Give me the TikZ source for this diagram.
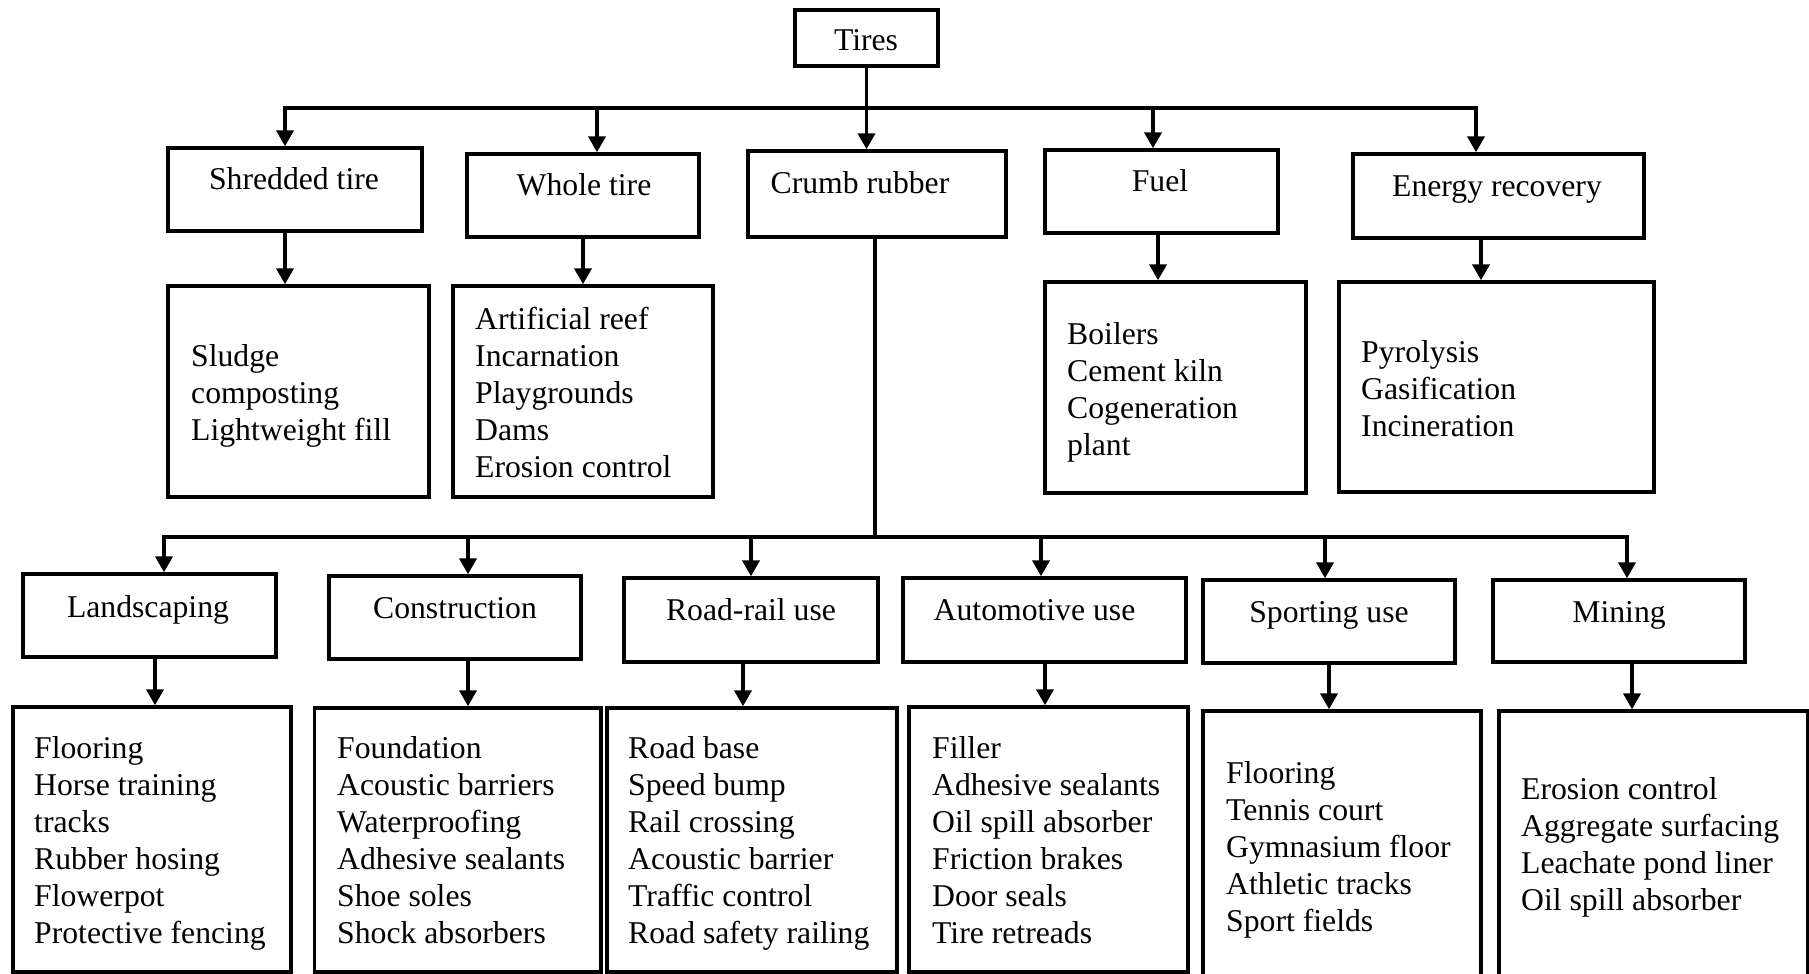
\documentclass[tikz,border=0pt]{standalone}
\usepackage{fontspec}
\setmainfont{Liberation Serif}
\usetikzlibrary{arrows.meta}

\tikzset{
  every node/.style={font=\fontsize{31.7pt}{37pt}\selectfont},
  box/.style={draw, rectangle, line width=3.4pt, inner sep=0pt},
  lbl/.style={anchor=base, inner sep=0pt},
  lst/.style={anchor=base west, inner sep=0pt},
  conn/.style={line width=3.8pt},
  tip/.tip={Triangle[width=17pt,length=16pt]},
  arr/.style={conn, -tip},
  arrboth/.style={conn, tip-tip, line join=miter},
}

\newcommand{\items}[1]{\begin{tabular}[t]{@{}l@{}}#1\end{tabular}}

\begin{document}
\begin{tikzpicture}[x=1pt, y=-1pt]
\useasboundingbox (0,0) rectangle (1809,974);
\clip (0,0) rectangle (1809,974);

% ---- root ----
\node[box, minimum width=143pt, minimum height=56pt] (tires) at (866.5,38) {};
\node[lbl] (tiresT) at (866,51) {Tires};

% ---- first level ----
\node[box, minimum width=254pt, minimum height=83pt] (shred)  at (295,189.5)   {};
\node[box, minimum width=232pt, minimum height=83pt] (whole)  at (583,195.5)   {};
\node[box, minimum width=258pt, minimum height=86pt] (crumb)  at (877,194)     {};
\node[box, minimum width=233pt, minimum height=83pt] (fuel)   at (1161.5,191.5){};
\node[box, minimum width=291pt, minimum height=84pt] (energy) at (1498.5,196)  {};

\node[lbl] (shredT)  at (294,189)  {Shredded tire};
\node[lbl] (wholeT)  at (584,195)  {Whole tire};
\node[lbl] (crumbT)  at (860,193)  {Crumb rubber};
\node[lbl] (fuelT)   at (1160,191) {Fuel};
\node[lbl] (energyT) at (1497,196) {Energy recovery};

% ---- first level uses ----
\node[box, minimum width=261pt, minimum height=211pt] (shredL)  at (298.5,391.5)  {};
\node[box, minimum width=260pt, minimum height=211pt] (wholeL)  at (583,391.5)    {};
\node[box, minimum width=261pt, minimum height=211pt] (fuelL)   at (1175.5,387.5) {};
\node[box, minimum width=315pt, minimum height=210pt] (energyL) at (1496.5,387)   {};

\node[lst] (shredLT)  at (191,366)  {\items{Sludge\\composting\\Lightweight fill}};
\node[lst] (wholeLT)  at (475,329)  {\items{Artificial reef\\Incarnation\\Playgrounds\\Dams\\Erosion control}};
\node[lst] (fuelLT)   at (1067,344) {\items{Boilers\\Cement kiln\\Cogeneration\\plant}};
\node[lst] (energyLT) at (1361,362) {\items{Pyrolysis\\Gasification\\Incineration}};

% ---- crumb rubber applications ----
\node[box, minimum width=253pt, minimum height=83pt] (land)   at (149.5,615.5) {};
\node[box, minimum width=252pt, minimum height=83pt] (cons)   at (455,617.5)   {};
\node[box, minimum width=254pt, minimum height=84pt] (road)   at (751,620)     {};
\node[box, minimum width=283pt, minimum height=84pt] (auto)   at (1044.5,620)  {};
\node[box, minimum width=252pt, minimum height=83pt] (sport)  at (1329,621.5)  {};
\node[box, minimum width=252pt, minimum height=82pt] (mining) at (1619,621)    {};

\node[lbl] (landT)   at (148,617)    {Landscaping};
\node[lbl] (consT)   at (455,618)    {Construction};
\node[lbl] (roadT)   at (751,620)    {Road-rail use};
\node[lbl] (autoT)   at (1034.5,620) {Automotive use};
\node[lbl] (sportT)  at (1329,622)   {Sporting use};
\node[lbl] (miningT) at (1619,622)   {Mining};

\node[box, minimum width=278pt,   minimum height=265pt] (landL)   at (152,839.5)    {};
\node[box, minimum width=286.5pt, minimum height=264pt] (consL)   at (457.75,840)   {};
\node[box, minimum width=290pt,   minimum height=264pt] (roadL)   at (752,840)      {};
\node[box, minimum width=279pt,   minimum height=265pt] (autoL)   at (1048.5,839.5) {};
\node[box, minimum width=278pt,   minimum height=284pt] (sportL)  at (1342,853)     {};
\node[box, minimum width=308.5pt, minimum height=284pt] (miningL) at (1653.25,853)  {};

\node[lst] (landLT)   at (34,758)   {\items{Flooring\\Horse training\\tracks\\Rubber hosing\\Flowerpot\\Protective fencing}};
\node[lst] (consLT)   at (337,758)  {\items{Foundation\\Acoustic barriers\\Waterproofing\\Adhesive sealants\\Shoe soles\\Shock absorbers}};
\node[lst] (roadLT)   at (628,758)  {\items{Road base\\Speed bump\\Rail crossing\\Acoustic barrier\\Traffic control\\Road safety railing}};
\node[lst] (autoLT)   at (932,758)  {\items{Filler\\Adhesive sealants\\Oil spill absorber\\Friction brakes\\Door seals\\Tire retreads}};
\node[lst] (sportLT)  at (1226,783) {\items{Flooring\\Tennis court\\Gymnasium floor\\Athletic tracks\\Sport fields}};
\node[lst] (miningLT) at (1521,799) {\items{Erosion control\\Aggregate surfacing\\Leachate pond liner\\Oil spill absorber}};

% ---- branch points ----
\coordinate (b1) at (285,108);
\coordinate (b2) at (597,108);
\coordinate (b4) at (1153,108);
\coordinate (b5) at (1476,108);

\coordinate (s2) at (583,0);
\coordinate (s4) at (1158,0);
\coordinate (s5) at (1481,0);

\coordinate (cj) at (875,537);
\coordinate (c1) at (164,537);
\coordinate (c2) at (468,537);
\coordinate (c3) at (751,537);
\coordinate (c4) at (1041,537);
\coordinate (c5) at (1325,537);
\coordinate (c6) at (1627,537);

\coordinate (d1) at (155,0);
\coordinate (d2) at (468,0);
\coordinate (d3) at (743,0);
\coordinate (d4) at (1045,0);
\coordinate (d5) at (1329,0);
\coordinate (d6) at (1632,0);

% ---- connectors: first level ----
\draw[arrboth] (b1 |- shred.north) -- (b1) -- (b5) -- (b5 |- energy.north);
\draw[arr] (b2) -- (b2 |- whole.north);
\draw[arr] (tires.south) -- (tires.south |- crumb.north);
\draw[arr] (b4) -- (b4 |- fuel.north);

\draw[arr] (shred.south -| b1)  -- (shredL.north -| b1);
\draw[arr] (whole.south -| s2)  -- (wholeL.north -| s2);
\draw[arr] (fuel.south -| s4)   -- (fuelL.north -| s4);
\draw[arr] (energy.south -| s5) -- (energyL.north -| s5);

% ---- connectors: crumb rubber ----
\draw[conn, line cap=rect] (crumb.south -| cj) -- (cj);
\draw[arrboth] (c1 |- land.north) -- (c1) -- (c6) -- (c6 |- mining.north);
\draw[arr] (c2) -- (c2 |- cons.north);
\draw[arr] (c3) -- (c3 |- road.north);
\draw[arr] (c4) -- (c4 |- auto.north);
\draw[arr] (c5) -- (c5 |- sport.north);

\draw[arr] (land.south -| d1)   -- (landL.north -| d1);
\draw[arr] (cons.south -| d2)   -- (consL.north -| d2);
\draw[arr] (road.south -| d3)   -- (roadL.north -| d3);
\draw[arr] (auto.south -| d4)   -- (autoL.north -| d4);
\draw[arr] (sport.south -| d5)  -- (sportL.north -| d5);
\draw[arr] (mining.south -| d6) -- (miningL.north -| d6);
\end{tikzpicture}
\end{document}
